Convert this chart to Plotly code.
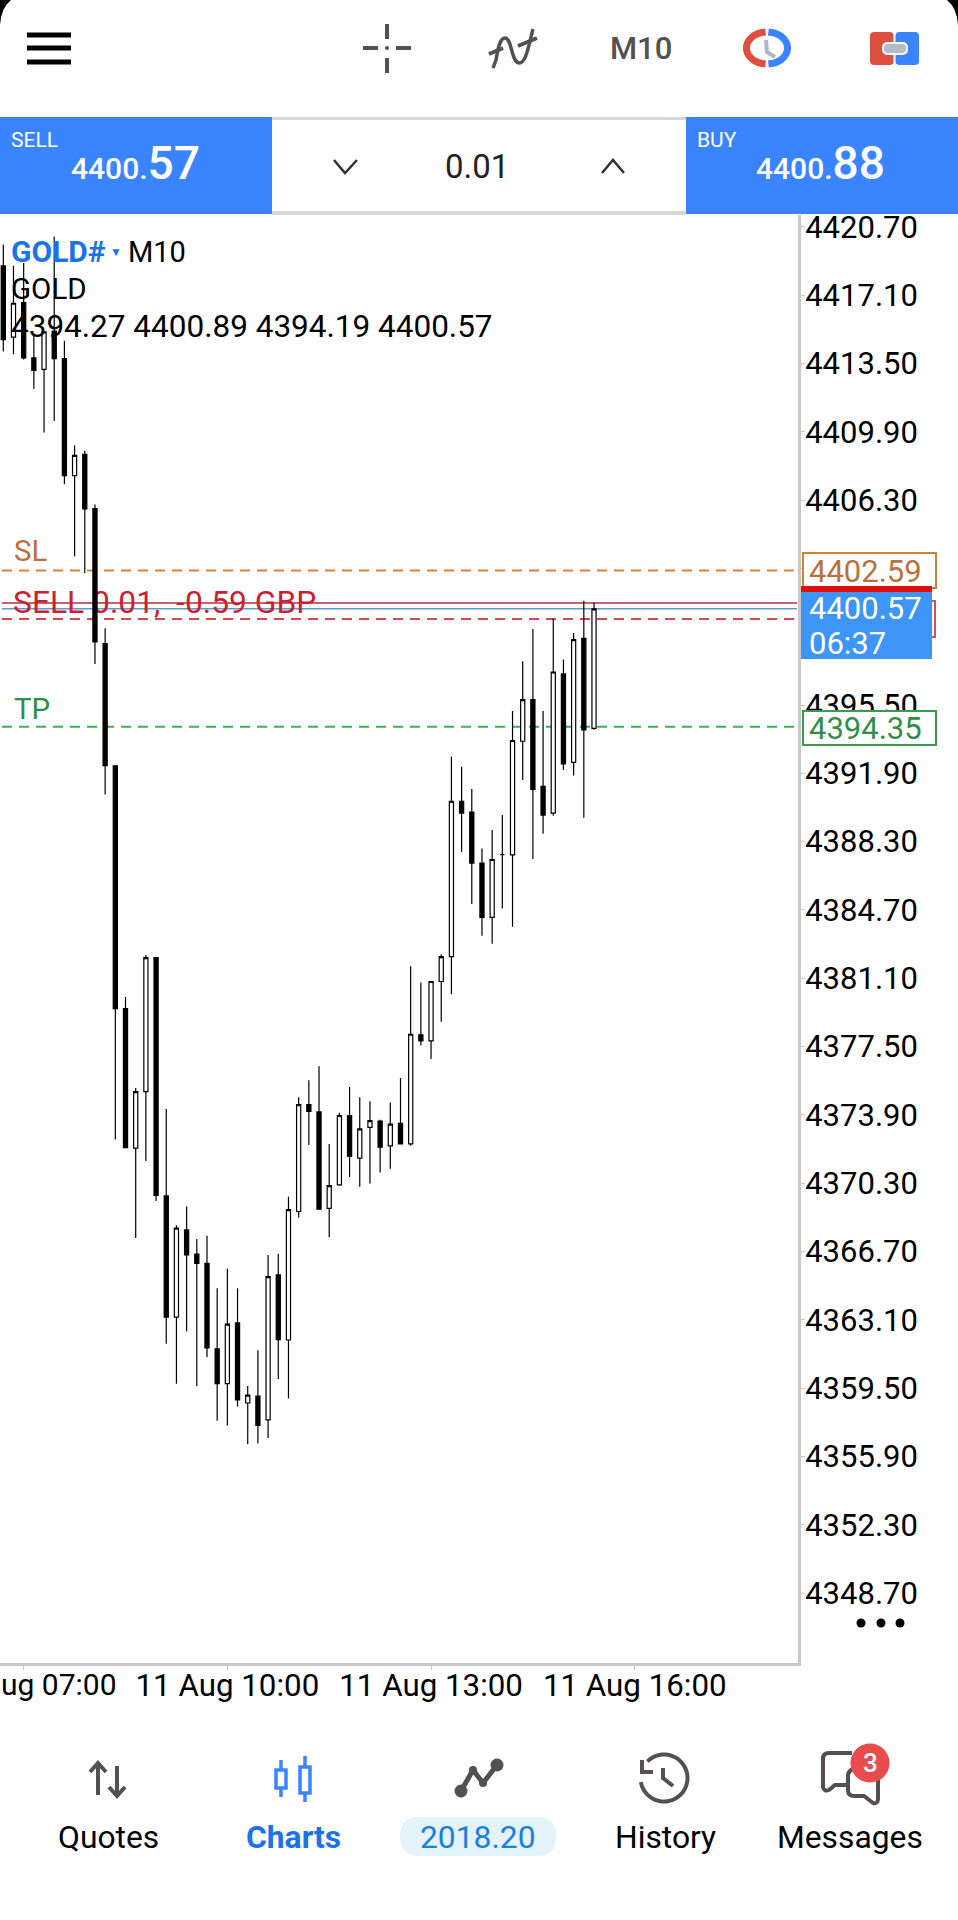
import numpy as np
import plotly.graph_objects as go

# M10 bars, oldest first
BAR_OPEN = [4418.64, 4414.88, 4416.71, 4413.79, 4413.19, 4415.20, 4413.75, 4407.59, 4408.71, 4405.85,
            4398.73, 4392.30, 4379.50, 4372.15, 4375.13, 4382.19, 4369.63, 4363.25, 4367.84, 4366.57,
            4366.08, 4361.58, 4359.74, 4362.95, 4358.72, 4359.09, 4357.83, 4365.47, 4362.04, 4368.81,
            4374.44, 4374.06, 4368.98, 4370.21, 4373.87, 4371.62, 4373.24, 4373.58, 4372.27, 4373.46,
            4372.37, 4378.12, 4377.80, 4380.93, 4382.24, 4390.42, 4389.86, 4387.17, 4384.31, 4387.62,
            4387.60, 4393.59, 4395.78, 4391.21, 4389.80, 4397.14, 4392.48, 4399.01, 4394.27]
BAR_HIGH = [4419.77, 4418.64, 4418.79, 4415.07, 4415.20, 4420.19, 4414.69, 4409.18, 4408.90, 4406.07,
            4399.54, 4392.30, 4380.11, 4375.32, 4382.33, 4382.19, 4374.21, 4368.09, 4369.08, 4367.36,
            4367.53, 4364.77, 4365.79, 4364.77, 4359.62, 4361.50, 4366.52, 4366.58, 4369.59, 4374.83,
            4375.73, 4376.46, 4372.37, 4374.01, 4375.37, 4374.83, 4374.62, 4373.65, 4374.55, 4375.85,
            4381.73, 4380.88, 4380.93, 4382.36, 4392.78, 4392.24, 4391.07, 4387.94, 4388.91, 4389.70,
            4395.18, 4397.80, 4399.50, 4395.18, 4400.04, 4397.90, 4399.29, 4400.99, 4400.89]
BAR_LOW = [4414.13, 4413.98, 4413.71, 4412.15, 4409.86, 4410.46, 4407.13, 4403.34, 4402.46, 4397.66,
           4390.78, 4372.61, 4372.17, 4367.41, 4371.47, 4369.37, 4361.84, 4359.74, 4362.50, 4359.62,
           4361.14, 4357.78, 4357.54, 4358.53, 4356.55, 4356.59, 4356.88, 4359.98, 4358.96, 4368.50,
           4372.32, 4368.93, 4367.46, 4370.17, 4370.63, 4370.12, 4370.29, 4370.87, 4371.06, 4372.37,
           4372.27, 4377.56, 4376.85, 4378.81, 4380.26, 4387.76, 4385.02, 4383.34, 4382.92, 4384.78,
           4383.81, 4391.55, 4387.39, 4388.71, 4389.66, 4392.07, 4391.79, 4389.56, 4394.19]
BAR_CLOSE = [4414.75, 4416.67, 4413.79, 4413.13, 4415.16, 4413.75, 4407.58, 4408.65, 4405.83, 4398.83,
             4392.31, 4379.50, 4372.17, 4375.13, 4382.19, 4369.66, 4363.25, 4367.94, 4366.52, 4366.08,
             4361.63, 4359.74, 4362.88, 4358.89, 4359.13, 4357.54, 4365.38, 4362.06, 4368.91, 4374.44,
             4374.09, 4368.93, 4370.17, 4373.87, 4371.72, 4373.16, 4373.60, 4372.20, 4373.41, 4372.37,
             4378.15, 4377.80, 4380.93, 4382.24, 4390.42, 4389.80, 4387.17, 4384.31, 4387.36, 4387.62,
             4393.63, 4395.78, 4391.05, 4389.70, 4397.24, 4392.40, 4398.95, 4394.19, 4400.57]

PRICE_TICKS = [4420.70, 4417.10, 4413.50, 4409.90, 4406.30, 4402.70, 4399.10, 4395.50, 4391.90, 4388.30, 4384.70,
               4381.10, 4377.50, 4373.90, 4370.30, 4366.70, 4363.10, 4359.50, 4355.90, 4352.30, 4348.70]
# these two sit completely behind the price tags
HIDDEN_PRICE_TICKS = [4402.70, 4399.10]
# the first label is cut by the screen edge, so it is written separately below
TIME_TICK_BARS = [2, 22, 42, 62]
TIME_TICK_LABELS = ["", "11 Aug 10:00", "11 Aug 13:00", "11 Aug 16:00"]
CUT_TIME_LABEL = "ug 07:00"

SL_PRICE = 4402.59
TP_PRICE = 4394.35
BID_PRICE = 4400.57
ASK_PRICE = 4400.88
ENTRY_PRICE = 4400.03

W = 958
H = 1920
PLOT_RIGHT = 798
PLOT_TOP = 215
PLOT_BOTTOM = 1663
BLUE = "#3a85ff"
ICON = "#555050"


def X(px):
    return px / W


def Y(py):
    return 1 - py / H


def px_path(d):
    parts, nums = [], []
    for tok in d.split():
        if tok.isalpha():
            parts.append(tok)
        else:
            nums.append(float(tok))
            if len(nums) == 2:
                parts.append(f"{X(nums[0]):.5f},{Y(nums[1]):.5f}")
                nums = []
    return " ".join(parts)


def arc_path(cx, cy, rx, ry, a0, a1):
    # angles in degrees, clockwise from 12 o'clock
    t = np.radians(np.linspace(a0, a1, 40))
    pts = [f"{cx + rx * np.sin(a):.1f} {cy - ry * np.cos(a):.1f}" for a in t]
    return "M " + " L ".join(pts)


def round_path(x0, y0, x1, y1, r):
    return (f"M {x0 + r} {y0} L {x1 - r} {y0} Q {x1} {y0} {x1} {y0 + r} L {x1} {y1 - r} Q {x1} {y1} {x1 - r} {y1} "
            f"L {x0 + r} {y1} Q {x0} {y1} {x0} {y1 - r} L {x0} {y0 + r} Q {x0} {y0} {x0 + r} {y0} Z")


shapes = []
notes = []


def rect(x0, y0, x1, y1, fill="rgba(0,0,0,0)", color=None, width=0):
    shapes.append(dict(type="rect", xref="paper", yref="paper", x0=X(x0), x1=X(x1), y0=Y(y0), y1=Y(y1),
                       fillcolor=fill, line=dict(color=color, width=width), layer="above"))


def circle(cx, cy, r, fill):
    shapes.append(dict(type="circle", xref="paper", yref="paper", x0=X(cx - r), x1=X(cx + r), y0=Y(cy - r), y1=Y(cy + r),
                       fillcolor=fill, line=dict(width=0), layer="above"))


def stroke(d, color=ICON, width=4, fill=None):
    s = dict(type="path", xref="paper", yref="paper", path=px_path(d), line=dict(color=color, width=width), layer="above")
    if fill:
        s["fillcolor"] = fill
    shapes.append(s)


def note(x, y, text, size, color="#000000", anchor="left", weight=400):
    notes.append(dict(xref="paper", yref="paper", x=X(x), y=Y(y), text=text, showarrow=False, xanchor=anchor,
                      yanchor="middle", borderpad=0, font=dict(family="Roboto", size=size, color=color, weight=weight)))


def level(price, color, width, dash="solid"):
    shapes.append(dict(type="line", xref="paper", yref="y", x0=X(2), x1=X(PLOT_RIGHT - 1), y0=price, y1=price,
                       line=dict(color=color, width=width, dash=dash), layer="below"))


# price levels sit under the candles
level(SL_PRICE, "#e08030", 2, "10px,7px")
level(ENTRY_PRICE, "#d84850", 2, "10px,7px")
level(TP_PRICE, "#3fae5a", 2, "10px,7px")
level(ASK_PRICE, "#b03040", 1.5)
level(BID_PRICE, "#5a9ad0", 1.5)

# position label goes under the candles too, so it has to be a shape label
shapes.append(dict(type="line", xref="paper", yref="paper", x0=X(13), x1=X(330), y0=Y(600), y1=Y(600),
                   line=dict(width=0), layer="below",
                   label=dict(text="SELL 0.01,  -0.59 GBP", textposition="start", xanchor="left", yanchor="middle",
                              padding=0, font=dict(family="Roboto", size=31.8, color="#cc2030"))))

# header bar
rect(0, 0, W, 117, "#ffffff")
stroke("M 0 0 L 11 0 Q 1 8 0 25 Z", "#000000", 0, "#000000")
stroke("M 958 0 L 947 0 Q 957 8 958 25 Z", "#000000", 0, "#000000")
for y in (35, 48, 62):
    stroke(f"M 27 {y} L 71 {y}", "#000000", 5)
stroke("M 387 24 L 387 39 M 387 58 L 387 73 M 363 48 L 378 48 M 396 48 L 411 48", ICON, 4)
circle(387, 48, 2, ICON)
stroke("M 493 68 L 496 60 C 498 48 500 38 505 38 C 512 38 511 62 519 63 C 526 63 528 48 533 29", ICON, 3.5)
stroke("M 489 54 L 503 48 M 518 46 L 537 38", ICON, 4)
note(641, 48, "M10", 31, ICON, "center", 500)
stroke(arc_path(767, 48, 20.5, 16, 184, 356), "#dd5040", 7)
stroke(arc_path(767, 48, 20.5, 16, 4, 176), BLUE, 7)
stroke("M 766 40 L 767 52 L 775 57", "#a8b8c8", 4)
stroke(round_path(870, 32, 893.5, 65, 4), "#dd5040", 0, "#dd5040")
stroke(round_path(895.5, 32, 919, 65, 4), BLUE, 0, BLUE)
stroke(round_path(883, 43, 907, 54, 5), "#ffffff", 2, "#b4bcc8")

# trade panel
rect(0, 117, 272, 214, BLUE)
rect(686, 117, 958, 214, BLUE)
rect(272, 117, 686, 120, "#d8d8d8")
rect(272, 211, 686, 215, "#d8d8d8")
note(10, 140, "SELL", 21, "#ffffff")
note(696, 140, "BUY", 21, "#ffffff")
note(70, 163, "4400.<span style='font-size:46px'>57</span>", 30, "#ffffff", "left", 500)
note(755, 163, "4400.<span style='font-size:46px'>88</span>", 30, "#ffffff", "left", 500)
note(477, 167, "0.01", 33, "#222222", "center")
stroke("M 334 160 L 345 173 L 357 160", "#333333", 2.5)
stroke("M 602 173 L 613 160 L 624 173", "#333333", 2.5)

# chart captions
note(10, 252, "<b>GOLD#</b>", 30, "#1a73e8")
note(109, 252, "▼", 12, "#1a73e8")
note(127, 252, "M10", 29)
note(10, 289, "GOLD", 29.5)
note(10, 326, "4394.27 4400.89 4394.19 4400.57", 31.5)
note(13, 551, "SL", 29.5, "#b8723f")
note(13, 709, "TP", 29.5, "#2f8f4a")
note(0, 1684, CUT_TIME_LABEL, 30)

# price tags on the right
rect(803, 553, 936, 588, "#ffffff", "#d08030", 2)
note(808, 571, "4402.59", 31, "#b8723f")
rect(803, 601, 935, 637, "#ffffff", "#d05060", 2)
rect(801, 586, 932, 592, "#e01010")
rect(801, 592, 932, 659, "#3d95f5")
note(808, 609, "4400.57", 31, "#ffffff")
note(808, 643, "06:37", 31, "#ffffff")
rect(803, 711, 936, 745, "#ffffff", "#3a9a50", 2)
note(808, 728, "4394.35", 31, "#2f8f4a")

# more-dots under the price scale
for cx in (861, 881, 900):
    circle(cx, 1623, 4.5, "#000000")

# bottom nav icons
stroke("M 98 1795 L 98 1764 M 90 1772 L 98 1763 L 106 1772", ICON, 4)
stroke("M 117 1766 L 117 1795 M 109 1787 L 117 1796 L 125 1787", ICON, 4)
note(108, 1837, "Quotes", 31.8, "#000000", "center")

stroke("M 281 1760 L 281 1770 M 281 1788 L 281 1797 M 305 1756 L 305 1767 M 305 1793 L 305 1802", BLUE, 3.5)
rect(276, 1770, 286, 1788, "#ffffff", BLUE, 3.5)
rect(300, 1767, 310, 1793, "#ffffff", BLUE, 3.5)
note(293, 1837, "<b>Charts</b>", 31.8, "#1a73e8", "center")

stroke(round_path(400, 1817, 556, 1856, 19), "#e3f2fb", 0, "#e3f2fb")
note(478, 1837, "2018.20", 31.8, "#1a80e0", "center")
stroke("M 461 1791 L 473 1770 L 483 1783 L 497 1765", ICON, 5)
circle(461, 1791, 6.5, ICON)
circle(473, 1770, 4, ICON)
circle(483, 1783, 4, ICON)
circle(497, 1765, 6.5, ICON)

stroke(arc_path(664, 1778, 23.5, 23.5, -45, 260), ICON, 4)
stroke("M 642 1760 L 642 1772 L 653 1772", ICON, 4)
stroke("M 663 1768 L 663 1778 L 673 1786", ICON, 4)
note(665, 1837, "History", 31.8, "#000000", "center")

stroke("M 852 1753 L 829 1753 Q 823 1753 823 1759 L 823 1787 Q 824 1792 829 1790 L 835 1785 L 846 1785", ICON, 4)
stroke("M 860 1768 Q 848 1768 848 1776 L 848 1790 Q 848 1796 854 1796 L 864 1796 L 873 1803 Q 878 1804 878 1799 L 878 1778",
       ICON, 4)
circle(870, 1763, 19.5, "#e84c4c")
note(870, 1763, "3", 26, "#ffffff", "center", 500)
note(850, 1837, "Messages", 31.8, "#000000", "center")

fig = go.Figure(go.Candlestick(
    x=list(range(len(BAR_OPEN))), open=BAR_OPEN, high=BAR_HIGH, low=BAR_LOW, close=BAR_CLOSE,
    increasing=dict(fillcolor="#ffffff", line=dict(color="#000000", width=1.2)),
    decreasing=dict(fillcolor="#000000", line=dict(color="#000000", width=1.2)),
    whiskerwidth=0, showlegend=False))

price_labels = ["" if p in HIDDEN_PRICE_TICKS else f"{p:.2f}" for p in PRICE_TICKS]

fig.update_layout(
    width=W, height=H, autosize=False, margin=dict(l=0, r=0, t=0, b=0, pad=0, autoexpand=False),
    paper_bgcolor="#ffffff", plot_bgcolor="#ffffff", boxgap=0.42,
    font=dict(family="Roboto", color="#000000"),
    shapes=shapes, annotations=notes,
    xaxis=dict(domain=[0, X(PLOT_RIGHT)], range=[-0.324, 78.03], rangeslider=dict(visible=False),
               tickmode="array", tickvals=TIME_TICK_BARS, ticktext=TIME_TICK_LABELS,
               tickfont=dict(size=31.3), ticks="outside", ticklen=4, tickcolor="#c8c8c8",
               ticklabelstandoff=-12,
               showgrid=False, zeroline=False, showline=True, linecolor="#c8c8c8", linewidth=3,
               tickangle=0, fixedrange=True),
    yaxis=dict(domain=[Y(PLOT_BOTTOM), Y(PLOT_TOP)], range=[4345.02, 4421.32], side="right",
               tickmode="array", tickvals=PRICE_TICKS, ticktext=price_labels,
               tickfont=dict(size=31), ticks="outside", ticklen=4, tickcolor="#c8c8c8",
               ticklabelstandoff=-6,
               showgrid=False, zeroline=False, showline=True, linecolor="#c8c8c8", linewidth=3,
               fixedrange=True),
)

# pin the graph to the page corner, no body margin
fig.write_html("out.html", config=dict(displayModeBar=False),
               post_script="document.body.style.margin='0';"
                           "var g=document.querySelector('.plotly-graph-div');"
                           "g.style.position='absolute';g.style.left='0';g.style.top='0';")
